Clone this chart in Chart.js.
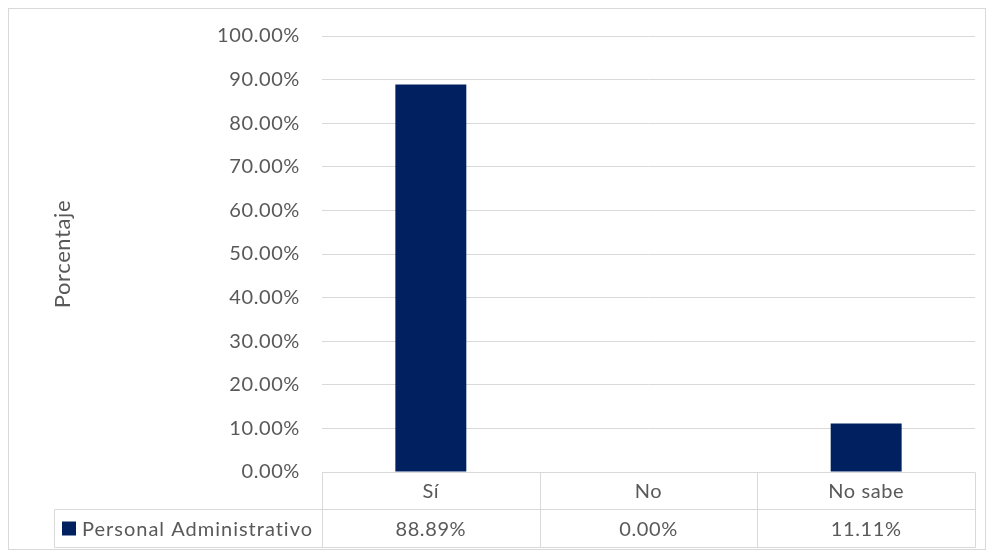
<!DOCTYPE html>
<html>
<head>
<meta charset="utf-8">
<script src="https://cdn.jsdelivr.net/npm/chart.js@4/dist/chart.umd.min.js"></script>
<style>
  html, body { margin: 0; padding: 0; background: #fff; }
  #wrap { width: 994px; height: 558px; position: relative; }
</style>
</head>
<body>
<div id="wrap"><canvas id="chart"></canvas></div>
<script>
// chart data
const categories = ['Sí', 'No', 'No sabe'];
const seriesName = 'Personal Administrativo';
const seriesValues = [88.89, 0.00, 11.11];
const yTicks = [0, 10, 20, 30, 40, 50, 60, 70, 80, 90, 100];

const FONT = 'Lato, "Open Sans", sans-serif';
const TEXT = '#595959';
const LINE = '#d9d9d9';
const BAR = '#002060';

const pct = v => v.toFixed(2) + '%';

// Excel-style frame + data table under the x axis
const tablePlugin = {
  id: 'dataTable',
  beforeDraw(chart) {
    const ctx = chart.ctx;
    ctx.save();
    ctx.strokeStyle = LINE;
    ctx.lineWidth = 1;
    ctx.strokeRect(8.5, 8.5, 977, 541);
    ctx.restore();
    // Calibri in the original runs a bit wider than Lato
    ctx.letterSpacing = '0.6px';
  },
  afterDraw(chart) {
    const ctx = chart.ctx;
    const area = chart.chartArea;
    const x = chart.scales.x;
    const rowH = 38;
    const top = Math.round(area.bottom) + 0.5;
    const mid = top + rowH - 1;
    const bot = mid + rowH;
    const left = 54.5;
    const n = categories.length;
    const step = (area.right - area.left) / n;
    const edges = [];
    for (let i = 0; i <= n; i++) edges.push(Math.round(area.left + i * step) + 0.5);

    ctx.save();
    ctx.strokeStyle = LINE;
    ctx.lineWidth = 1;
    ctx.beginPath();
    ctx.moveTo(edges[0], top); ctx.lineTo(edges[n], top);
    ctx.moveTo(left, mid); ctx.lineTo(edges[n], mid);
    ctx.moveTo(left, bot); ctx.lineTo(edges[n], bot);
    ctx.moveTo(left, mid); ctx.lineTo(left, bot);
    for (const e of edges) { ctx.moveTo(e, top); ctx.lineTo(e, bot); }
    ctx.stroke();

    ctx.fillStyle = TEXT;
    ctx.font = '20px ' + FONT;
    ctx.textAlign = 'center';
    ctx.textBaseline = 'middle';
    ctx.letterSpacing = '0.6px';
    categories.forEach((c, i) => {
      const cx = x.getPixelForValue(i);
      ctx.fillText(c, cx, (top + mid) / 2 + 1);
      ctx.fillText(pct(seriesValues[i]), cx, (mid + bot) / 2 + 1);
    });

    // legend key + series name
    ctx.fillStyle = BAR;
    ctx.fillRect(62, mid + 12, 14, 14);
    ctx.fillStyle = TEXT;
    ctx.textAlign = 'left';
    ctx.letterSpacing = '1px';
    ctx.fillText(seriesName, 82, (mid + bot) / 2 + 1);
    ctx.restore();
  },
};

new Chart(document.getElementById('chart'), {
  type: 'bar',
  data: {
    labels: categories,
    datasets: [{
      label: seriesName,
      data: seriesValues,
      backgroundColor: BAR,
      borderWidth: 0,
      categoryPercentage: 1,
      barPercentage: 0.326,
    }],
  },
  options: {
    responsive: true,
    maintainAspectRatio: false,
    animation: false,
    layout: { padding: { left: 40, right: 19, top: 36, bottom: 86 } },
    plugins: {
      legend: { display: false },
      tooltip: { enabled: false },
    },
    scales: {
      x: {
        display: false,
      },
      y: {
        min: 0,
        max: 100,
        afterBuildTicks: s => { s.ticks = yTicks.map(v => ({ value: v })); },
        afterFit: s => { s.width = 282; },
        ticks: {
          color: TEXT,
          font: { family: FONT, size: 20 },
          padding: 22,
          callback: v => pct(v),
        },
        grid: { color: LINE, lineWidth: 1, drawTicks: false },
        border: { display: false },
        title: {
          display: true,
          text: 'Porcentaje',
          color: TEXT,
          font: { family: FONT, size: 22 },
          padding: { top: 10, bottom: 0 },
        },
      },
    },
  },
  plugins: [tablePlugin],
});
</script>
</body>
</html>
